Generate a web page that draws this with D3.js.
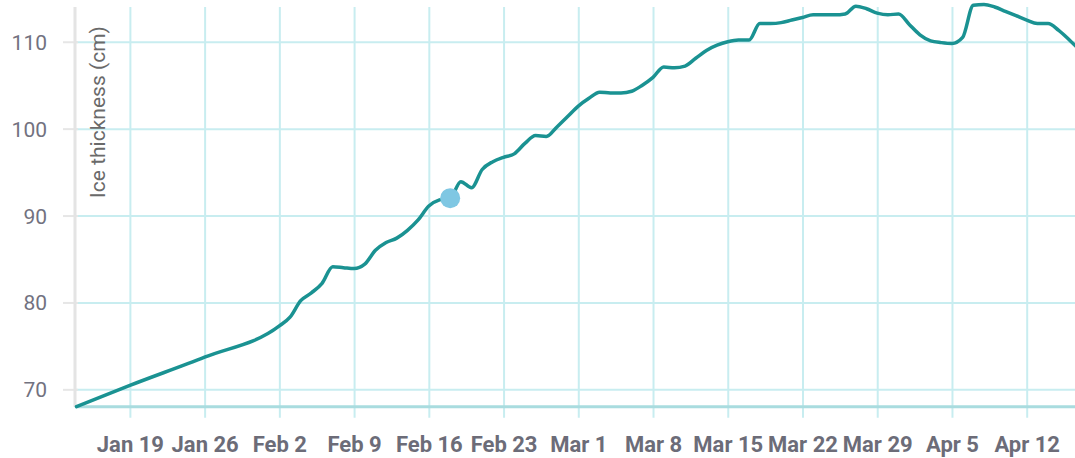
<!DOCTYPE html>
<html><head><meta charset="utf-8">
<script src="https://cdn.jsdelivr.net/npm/d3@7"></script>
<style>
body{margin:0;background:#fff;overflow:hidden}
text{font-family:Roboto, "Noto Sans", sans-serif}
</style>
</head><body>
<svg id="chart" width="1075" height="458"></svg>
<script>
// ---------- data ----------
const dates = [
  "2020-01-14","2020-01-19","2020-01-26","2020-02-02",
  "2020-02-03","2020-02-04","2020-02-05","2020-02-06","2020-02-07","2020-02-08","2020-02-09",
  "2020-02-10","2020-02-11","2020-02-12","2020-02-13","2020-02-14","2020-02-15","2020-02-16",
  "2020-02-17","2020-02-18","2020-02-19","2020-02-20","2020-02-21","2020-02-22","2020-02-23",
  "2020-02-24","2020-02-25","2020-02-26","2020-02-27","2020-02-28","2020-02-29","2020-03-01",
  "2020-03-02","2020-03-03","2020-03-04","2020-03-05","2020-03-06","2020-03-07","2020-03-08",
  "2020-03-09","2020-03-10","2020-03-11","2020-03-12","2020-03-13","2020-03-14","2020-03-15",
  "2020-03-16","2020-03-17","2020-03-18","2020-03-19","2020-03-20","2020-03-21","2020-03-22",
  "2020-03-23","2020-03-24","2020-03-25","2020-03-26","2020-03-27","2020-03-28","2020-03-29",
  "2020-03-30","2020-03-31","2020-04-01","2020-04-02","2020-04-03","2020-04-04","2020-04-05",
  "2020-04-06","2020-04-07","2020-04-08","2020-04-09","2020-04-10","2020-04-11","2020-04-12",
  "2020-04-13","2020-04-14","2020-04-15","2020-04-16","2020-04-17"
];
const thickness = [
  68.0, 70.45, 73.7, 77.3,
  78.3, 80.2, 81.1, 82.2, 84.1, 84.0, 83.9,
  84.4, 86.0, 86.9, 87.4, 88.3, 89.5, 91.1,
  91.8, 92.0, 93.9, 93.2, 95.3, 96.2, 96.7,
  97.1, 98.3, 99.2, 99.1, 100.2, 101.4, 102.6,
  103.5, 104.2, 104.1, 104.1, 104.3, 105.0, 105.9,
  107.1, 107.0, 107.2, 108.1, 109.0, 109.6, 110.0,
  110.2, 110.2, 112.1, 112.1, 112.2, 112.5, 112.8,
  113.1, 113.1, 113.1, 113.2, 114.1, 113.8, 113.3,
  113.1, 113.2, 112.0, 110.8, 110.1, 109.9, 109.8,
  110.5, 114.2, 114.3, 114.0, 113.5, 113.0, 112.5,
  112.1, 112.1, 111.3, 110.2, 109.0
];
const highlightDate = "2020-02-18";
const highlightValue = 92.0;
const yTicks = [70, 80, 90, 100, 110];
const xTickDates = ["2020-01-19","2020-01-26","2020-02-02","2020-02-09","2020-02-16","2020-02-23",
  "2020-03-01","2020-03-08","2020-03-15","2020-03-22","2020-03-29","2020-04-05","2020-04-12"];
const yTitle = "Ice thickness (cm)";

// ---------- layout ----------
const parse = d3.timeParse("%Y-%m-%d");
const fmt = d3.timeFormat("%b %-d");
const data = dates.map((d, i) => ({date: parse(d), value: thickness[i]}));

const mLeft = 75, mRight = 1075, mTop = 7, mBottom = 406.7;
const x = d3.scaleTime()
  .domain([parse("2020-01-14"), parse("2020-04-12")])
  .range([76.5, 1026.7]);
const y = d3.scaleLinear().domain([68, 114]).range([mBottom, mTop]);

const svg = d3.select("#chart");
const gridColor = "#c8edf0";

// vertical grid + ticks
const xAxis = d3.axisBottom(x)
  .tickValues(xTickDates.map(parse))
  .tickFormat(fmt)
  .tickSize(-(mBottom - mTop))
  .tickPadding(0);
const gx = svg.append("g").attr("transform", `translate(0,${mBottom})`).call(xAxis);
gx.select(".domain").remove();
gx.selectAll(".tick line").attr("stroke", gridColor).attr("stroke-width", 2)
  .attr("y1", 11).attr("y2", -(mBottom - mTop));
gx.selectAll(".tick text")
  .attr("y", 45).attr("dy", 0)
  .attr("fill", "#6c6c78").attr("font-size", 22).attr("font-weight", "bold");

// horizontal grid
const yAxis = d3.axisLeft(y).tickValues(yTicks).tickSize(0).tickPadding(0);
const gy = svg.append("g").attr("transform", `translate(${mLeft},0)`).call(yAxis);
gy.select(".domain").remove();
gy.selectAll(".tick line").remove();
gy.selectAll(".tick").append("line")
  .attr("x1", 0).attr("x2", mRight - mLeft)
  .attr("stroke", gridColor).attr("stroke-width", 2);
gy.selectAll(".tick").append("line")
  .attr("x1", -12).attr("x2", 3)
  .attr("stroke", "#e6e6e6").attr("stroke-width", 2);
gy.selectAll(".tick text")
  .attr("x", -28).attr("dy", "0.36em")
  .attr("fill", "#72727f").attr("font-size", 21);

// left axis line
svg.append("line").attr("x1", mLeft).attr("x2", mLeft).attr("y1", mTop).attr("y2", mBottom)
  .attr("stroke", "#e4e4e4").attr("stroke-width", 3);
// bottom axis line
svg.append("line").attr("x1", mLeft).attr("x2", mRight).attr("y1", mBottom).attr("y2", mBottom)
  .attr("stroke", "#a9dcdf").attr("stroke-width", 3);

// y title
svg.append("text")
  .attr("transform", `translate(105,112) rotate(-90)`)
  .attr("text-anchor", "middle")
  .attr("fill", "#6a6a6a").attr("font-size", 21)
  .text(yTitle);

// line
const line = d3.line().x(d => x(d.date)).y(d => y(d.value)).curve(d3.curveMonotoneX);
svg.append("path").datum(data)
  .attr("d", line).attr("fill", "none")
  .attr("stroke", "#1a9292").attr("stroke-width", 3.5)
  .attr("stroke-linejoin", "round").attr("stroke-linecap", "round");

// highlight point
svg.append("circle")
  .attr("cx", x(parse(highlightDate))).attr("cy", y(highlightValue))
  .attr("r", 10).attr("fill", "#7fc7e3");
</script>
</body></html>
